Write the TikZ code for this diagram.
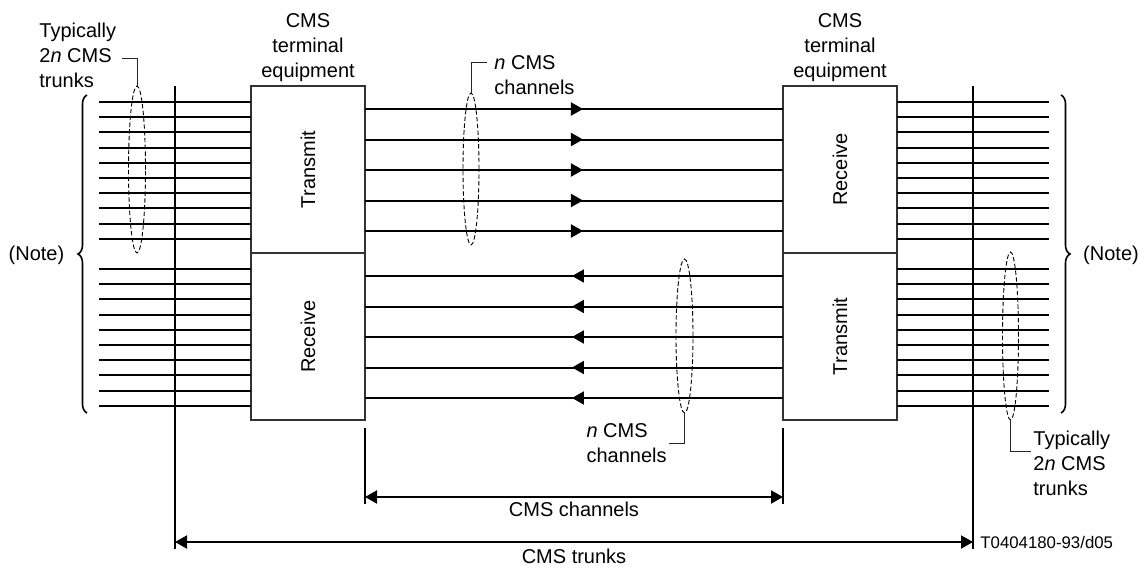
\documentclass[tikz,border=0pt]{standalone}
\usepackage{fontspec}
\setmainfont{Liberation Sans}
\usepackage{tikz}
\usetikzlibrary{positioning,shapes.geometric,arrows.meta,decorations.markings,decorations.pathreplacing}
\tikzset{>={Triangle[length=6pt,width=6.5pt]}}
\tikzset{
  termbox/.style={draw=black!80, line width=0.6pt, minimum width=57pt, minimum height=83.5pt, inner sep=0pt, outer sep=0pt},
  bundle/.style={ellipse, draw=black, line width=0.45pt, dash pattern=on 2.2pt off 1.2pt, inner sep=0pt},
  wire/.style={line width=1pt},
  lead/.style={draw=black!85, line width=0.5pt},
  fwd/.style={postaction={decorate, decoration={markings, mark=at position #1 with {\arrow{>}}}}},
  lbl/.style={inner sep=1pt, align=left},
}
\def\vtext#1{\rotatebox{90}{#1}}

\begin{document}
\begin{tikzpicture}[x=0.5pt, y=-0.5pt, font=\fontsize{10pt}{12.5pt}\selectfont]
\useasboundingbox (0,0) rectangle (1147,568);

\node[termbox] (ltx) at (308,169.5) {\vtext{Transmit}};
\node[termbox, below=0pt of ltx] (lrx) {\vtext{Receive}};
\node[termbox] (rrx) at (840,169.5) {\vtext{Receive}};
\node[termbox, below=0pt of rrx] (rtx) {\vtext{Transmit}};
\node[align=center, inner sep=1pt, above=1pt of ltx] (lte) {CMS\\terminal\\equipment};
\node[align=center, inner sep=1pt, above=1pt of rrx] (rte) {CMS\\terminal\\equipment};

\foreach \i in {0,...,9}{
  \coordinate (lu\i) at (99,102+15.2*\i);
  \coordinate (ld\i) at (99,269+15.2*\i);
  \coordinate (ru\i) at (1049,102+15.2*\i);
  \coordinate (rd\i) at (1049,269+15.2*\i);
  \draw[wire] (lu\i) -- (lu\i -| ltx.west);
  \draw[wire] (ld\i) -- (ld\i -| lrx.west);
  \draw[wire] (rrx.east |- ru\i) -- (ru\i);
  \draw[wire] (rtx.east |- rd\i) -- (rd\i);
}
\foreach \i in {0,...,4}{
  \coordinate (cu\i) at (574,109+30.5*\i);
  \coordinate (cd\i) at (574,276+30.5*\i);
  \draw[wire, fwd=0.5215] (ltx.east |- cu\i) -- (rrx.west |- cu\i);
  \draw[wire, fwd=0.5048] (rtx.west |- cd\i) -- (lrx.east |- cd\i);
}

\node[bundle, minimum width=8.5pt, minimum height=83.5pt] (ltb) at (137,169.5) {};
\node[bundle, minimum width=8pt, minimum height=76pt] (tcb) at (471,169) {};
\node[bundle, minimum width=8.5pt, minimum height=77pt] (bcb) at (684.5,336) {};
\node[bundle, minimum width=8pt, minimum height=84pt] (rbb) at (1010.5,336) {};

\node[lbl, anchor=west] (ltl) at (37,55) {Typically\\2\textit{n} CMS\\trunks};
\node[lbl, anchor=west] (tcl) at (492,75) {\textit{n} CMS\\channels};
\node[lbl, anchor=east] (bcl) at (669,443) {\textit{n} CMS\\channels};
\node[lbl, anchor=west] (rbl) at (1031,463.5) {Typically\\2\textit{n} CMS\\trunks};

\draw[lead] (ltb.north) |- ([xshift=2pt,yshift=-1.5pt]ltl.east);
\draw[lead] (tcb.north) |- ([xshift=-2.5pt,yshift=6.5pt]tcl.west);
\draw[lead] (bcb.south) |- (bcl.east);
\draw[lead] (rbb.south) |- ([yshift=6.25pt]rbl.west);

\node (lnote) at (36.5,255) {(Note)};
\node (rnote) at (1111,255) {(Note)};
\draw[line width=0.8pt, decorate, decoration={brace, amplitude=4.5pt}] (87,413) -- (87,95);
\draw[line width=0.8pt, decorate, decoration={brace, amplitude=4.5pt}] (1061,95) -- (1061,413);

\coordinate (tka) at (175,86); \coordinate (tkb) at (175,549);
\coordinate (tkc) at (973,86); \coordinate (tkd) at (973,549);
\draw[wire] (tka) -- (tkb);
\draw[wire] (tkc) -- (tkd);
\coordinate (tk1) at (175,542); \coordinate (tk2) at (973,542);
\draw[wire, <->] (tk1) -- (tk2);
\node (trk) at (574,556) {CMS trunks};

\coordinate (cha) at (365,428); \coordinate (chb) at (365,504);
\coordinate (chc) at (783,428); \coordinate (chd) at (783,504);
\draw[wire] (cha) -- (chb);
\draw[wire] (chc) -- (chd);
\coordinate (ch1) at (365,497); \coordinate (ch2) at (783,497);
\draw[wire, <->] (ch1) -- (ch2);
\node (chl) at (574,509) {CMS channels};

\node[font=\fontsize{8.4pt}{10pt}\selectfont, inner sep=1pt, anchor=west] (tag) at (978,542) {T0404180-93/d05};
\end{tikzpicture}
\end{document}
